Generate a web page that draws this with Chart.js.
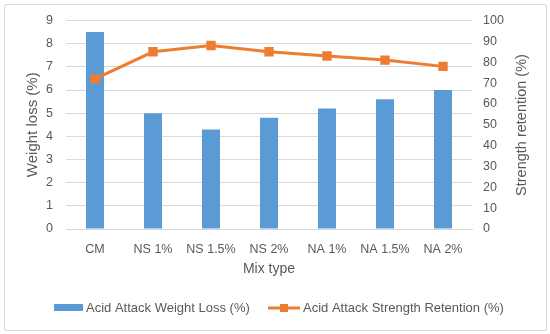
<!DOCTYPE html>
<html>
<head>
<meta charset="utf-8">
<script src="https://cdn.jsdelivr.net/npm/chart.js@4"></script>
<style>
  body { margin: 0; background: #fff; }
  #frame { position: absolute; left: 4px; top: 4px; width: 541px; height: 325px; border: 1px solid #d9d9d9; border-radius: 2px; }
  #wrap { position: absolute; left: 0; top: 0; width: 550px; height: 334px; }
</style>
</head>
<body>
<div id="frame"></div>
<div id="wrap"><canvas id="chart"></canvas></div>
<script>
// Mix types on the x axis
const mixTypes = ['CM', 'NS 1%', 'NS 1.5%', 'NS 2%', 'NA 1%', 'NA 1.5%', 'NA 2%'];
// Weight loss (%) - left axis
const weightLoss = [8.5, 5.0, 4.3, 4.8, 5.2, 5.6, 6.0];
// Strength retention (%) - right axis
const strengthRetention = [72, 85, 88, 85, 83, 81, 78];

const BLUE = '#5b9bd5';
const ORANGE = '#ed7d31';
const TEXT = '#595959';
const GRID = '#d9d9d9';
const FONT = 'Liberation Sans';

// Excel-like legend and right axis title (reads bottom to top)
const extrasPlugin = {
    id: 'excelExtras',
    afterDraw(chart) {
        const ctx = chart.ctx;
        const y = 308;
        ctx.save();
        ctx.font = `13px "${FONT}"`;
        ctx.textBaseline = 'middle';

        // bar swatch
        ctx.fillStyle = BLUE;
        ctx.fillRect(54, y - 4, 29, 7);
        ctx.fillStyle = TEXT;
        ctx.fillText(chart.data.datasets[0].label, 86, y);

        // line swatch with square marker
        ctx.strokeStyle = ORANGE;
        ctx.lineWidth = 3;
        ctx.beginPath();
        ctx.moveTo(268, y);
        ctx.lineTo(300, y);
        ctx.stroke();
        ctx.fillStyle = ORANGE;
        ctx.fillRect(280, y - 4, 8, 8);
        ctx.fillStyle = TEXT;
        ctx.fillText(chart.data.datasets[1].label, 303, y);

        // right axis title
        ctx.translate(522, 125);
        ctx.rotate(-Math.PI / 2);
        ctx.font = `14.5px "${FONT}"`;
        ctx.textAlign = 'center';
        ctx.fillText('Strength retention (%)', 0, 0);
        ctx.restore();
    }
};

const ctx = document.getElementById('chart').getContext('2d');
new Chart(ctx, {
    data: {
        labels: mixTypes,
        datasets: [
            {
                type: 'bar',
                label: 'Acid Attack Weight Loss (%)',
                data: weightLoss,
                backgroundColor: BLUE,
                yAxisID: 'y',
                categoryPercentage: 1,
                barPercentage: 0.31,
                order: 2,
            },
            {
                type: 'line',
                label: 'Acid Attack Strength Retention (%)',
                data: strengthRetention,
                borderColor: ORANGE,
                backgroundColor: ORANGE,
                borderWidth: 3,
                pointStyle: 'rect',
                pointRadius: 4.5,
                pointHoverRadius: 4.5,
                yAxisID: 'y1',
                order: 1,
            },
        ],
    },
    options: {
        responsive: true,
        maintainAspectRatio: false,
        animation: false,
        layout: { padding: { top: 20, bottom: 55, left: 0, right: 0 } },
        plugins: {
            legend: { display: false },
            tooltip: { enabled: false },
        },
        scales: {
            x: {
                grid: { display: false },
                border: { color: GRID, width: 1 },
                ticks: { color: TEXT, font: { family: FONT, size: 12.5 }, padding: 5, maxRotation: 0 },
                title: { display: true, text: 'Mix type', color: TEXT, font: { family: FONT, size: 14 }, padding: { top: 0, bottom: 1 } },
                afterFit(scale) { scale.height = 50; },
            },
            y: {
                position: 'left',
                min: 0,
                max: 9,
                grid: { color: GRID, drawTicks: false },
                border: { display: false },
                ticks: { stepSize: 1, color: TEXT, font: { family: FONT, size: 12.5 }, padding: 13 },
                title: { display: true, text: 'Weight loss (%)', color: TEXT, font: { family: FONT, size: 15 }, padding: { top: 24, bottom: 0 } },
                afterFit(scale) { scale.width = 66; },
            },
            y1: {
                position: 'right',
                min: 0,
                max: 100,
                grid: { display: false, drawTicks: false },
                border: { display: false },
                ticks: { stepSize: 10, color: TEXT, font: { family: FONT, size: 12.5 }, padding: 11 },
                title: { display: false },
                afterFit(scale) { scale.width = 78; },
            },
        },
    },
    plugins: [extrasPlugin],
});
</script>
</body>
</html>
